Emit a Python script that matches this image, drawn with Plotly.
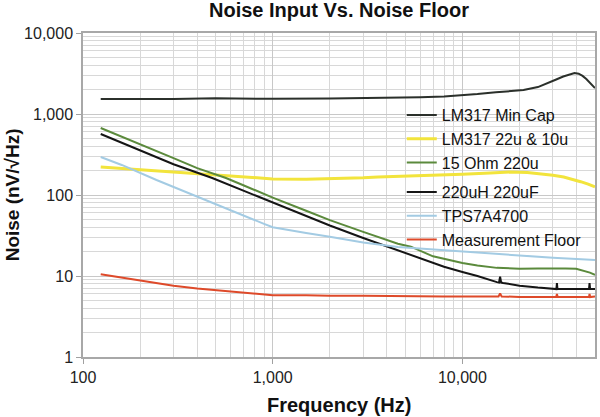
import plotly.graph_objects as go

# ---- data ----
min_cap_f = [124, 200, 300, 500, 700, 1000, 2000, 3000, 4570, 6000, 8000, 10000, 12000, 15000, 18000,
             21000, 25000, 28000, 31000, 34000, 37000, 39000, 41000, 43000, 45000, 47000, 50000]
min_cap_v = [1530, 1520, 1530, 1560, 1540, 1540, 1550, 1560, 1580, 1610, 1650, 1700, 1760, 1850, 1920,
             1980, 2150, 2380, 2650, 2900, 3120, 3210, 3150, 2950, 2700, 2400, 2090]

yellow_f = [124, 150, 200, 300, 400, 500, 700, 850, 1000, 1500, 2000, 3000, 3590, 5000, 7000, 10000,
            14000, 17800, 22000, 26000, 30000, 34200, 38000, 42000, 46000, 50000]
yellow_v = [222, 215, 205, 192, 183, 176, 166, 160, 158, 157, 159, 163, 167, 170, 174, 180,
            187, 192, 190, 183, 175, 167, 157, 146, 136, 126]

green_f = [124, 150, 200, 300, 400, 567, 700, 1000, 1500, 2000, 3000, 4570, 5350, 7000, 10000, 12000,
           15200, 20000, 25000, 30000, 35000, 39800, 44000, 47000, 50000]
green_v = [671, 560, 420, 285, 215, 162, 132, 93, 64, 49, 35, 25, 23, 17.5, 14.5, 13.5,
           12.6, 12.3, 12.4, 12.5, 12.4, 12.3, 11.6, 11.0, 10.3]

black_f = [124, 150, 200, 300, 480, 700, 1000, 1500, 2000, 3000, 4570, 6000, 8000, 10000, 12000, 15200,
           15600, 15800, 16000, 16400, 20000, 25000, 30200, 31300, 31500, 31700, 32500, 40000, 46500,
           46800, 47100, 50000]
black_v = [567, 470, 355, 240, 162, 113, 80, 55, 42, 29.5, 20.9, 16.5, 13, 11.2, 10, 8.4,
           8.3, 9.8, 8.3, 8.2, 7.6, 7.2, 6.9, 6.9, 8.2, 6.9, 6.9, 6.9, 6.9,
           8.2, 6.9, 6.9]

blue_f = [124, 160, 244, 350, 500, 700, 900, 1000, 1200, 1500, 2000, 3000, 4570, 6000, 8050, 10000,
          15000, 20000, 30000, 40000, 50000]
blue_v = [294, 235, 153, 108, 76, 55, 44, 40, 37, 34, 30.5, 26, 22.8, 21.8, 20.9, 20,
          18.6, 17.8, 16.8, 16.2, 15.8]

red_f = [124, 150, 200, 300, 400, 600, 800, 1000, 1500, 2000, 3000, 5000, 8000, 10000, 15500, 15800,
         16100, 20000, 30000, 31200, 31500, 31800, 40000, 46500, 46800, 47100, 50000]
red_v = [10.5, 9.8, 8.8, 7.6, 7.0, 6.4, 6.0, 5.8, 5.8, 5.7, 5.7, 5.6, 5.6, 5.6, 5.6, 6.1,
         5.6, 5.5, 5.5, 5.5, 6.0, 5.5, 5.5, 5.5, 6.0, 5.5, 5.6]

x_ticks = [100, 1000, 10000]
x_tick_text = ["100", "1,000", "10,000"]
y_ticks = [1, 10, 100, 1000, 10000]
y_tick_text = ["1", "10", "100", "1,000", "10,000"]

FONT = "Liberation Sans, Arial, sans-serif"

series = [
    ("LM317 Min Cap", min_cap_f, min_cap_v, "#2b302b", 2, "legend"),
    ("LM317 22u & 10u", yellow_f, yellow_v, "#f2e43c", 3, "legend"),
    ("15 Ohm 220u", green_f, green_v, "#5b8a3c", 2, "legend"),
    ("220uH 220uF", black_f, black_v, "#151515", 2, "legend2"),
    ("TPS7A4700", blue_f, blue_v, "#a3cbe3", 2, "legend2"),
    ("Measurement Floor", red_f, red_v, "#de4a2a", 2, "legend2"),
]

fig = go.Figure()
for name, f, v, col, w, lg in series:
    fig.add_trace(go.Scatter(x=f, y=v, mode="lines", name=name,
                             line=dict(color=col, width=w), legend=lg))

minor_x = [m * 10 ** d for d in range(2, 5) for m in range(2, 10) if m * 10 ** d <= 50000]
minor_y = [m * 10 ** d for d in range(0, 4) for m in range(2, 10)]

legend_font = dict(family=FONT, size=16, color="#111111")
title_font = dict(family=FONT, size=20, color="#111111")

fig.update_layout(
    width=600, height=417,
    margin=dict(l=83, r=3, t=33, b=60),
    paper_bgcolor="white", plot_bgcolor="white",
    font=dict(family=FONT, size=16, color="#222222"),
    title=dict(text="<b>Noise Input Vs. Noise Floor</b>", x=0.5, xref="paper", xanchor="center",
               y=0.976, yref="container", yanchor="middle", font=title_font),
    showlegend=True,
    legend=dict(x=0.6226, y=0.7994, xanchor="left", yanchor="top", bgcolor="rgba(0,0,0,0)",
                borderwidth=0, itemwidth=30, font=legend_font, tracegroupgap=0),
    legend2=dict(x=0.6226, y=0.5617, xanchor="left", yanchor="top", bgcolor="rgba(0,0,0,0)",
                 borderwidth=0, itemwidth=30, font=legend_font, tracegroupgap=0),
    shapes=[
        dict(type="rect", xref="paper", yref="paper", x0=0.6265, x1=0.992, y0=0.577, y1=0.784,
             fillcolor="white", line=dict(width=0), layer="between"),
        dict(type="rect", xref="paper", yref="paper", x0=0.6265, x1=0.992, y0=0.346, y1=0.537,
             fillcolor="white", line=dict(width=0), layer="between"),
    ],
    annotations=[
        dict(text="<b>Frequency (Hz)</b>", xref="paper", yref="paper", x=0.5, y=-0.148,
             xanchor="center", yanchor="middle", showarrow=False, font=title_font),
        dict(text="<b>Noise (nV/√Hz)</b>", xref="paper", yref="paper", x=-0.138, y=0.5,
             xanchor="center", yanchor="middle", textangle=-90, showarrow=False,
             font=dict(family=FONT, size=19, color="#111111")),
    ],
)

fig.update_xaxes(
    type="log", range=[2, 4.69897],
    tickvals=x_ticks, ticktext=x_tick_text,
    ticks="outside", ticklen=5, tickcolor="#a0a0a0",
    showline=True, linecolor="#a8a8a8", linewidth=1.5, mirror=True,
    showgrid=True, gridcolor="#c8c8c8", gridwidth=1,
    minor=dict(tickvals=minor_x, showgrid=True, gridcolor="#d8d8d8", ticks=""),
    zeroline=False,
)
fig.update_yaxes(
    type="log", range=[0, 4],
    tickvals=y_ticks, ticktext=y_tick_text,
    ticks="outside", ticklen=5, tickcolor="#a0a0a0",
    showline=True, linecolor="#a8a8a8", linewidth=1.5, mirror=True,
    showgrid=True, gridcolor="#c8c8c8", gridwidth=1,
    minor=dict(tickvals=minor_y, showgrid=True, gridcolor="#d8d8d8", ticks=""),
    zeroline=False,
)

fig.write_html("out.html",
               config={"displayModeBar": False},
               post_script="document.body.style.margin='0';document.body.style.padding='0';")
